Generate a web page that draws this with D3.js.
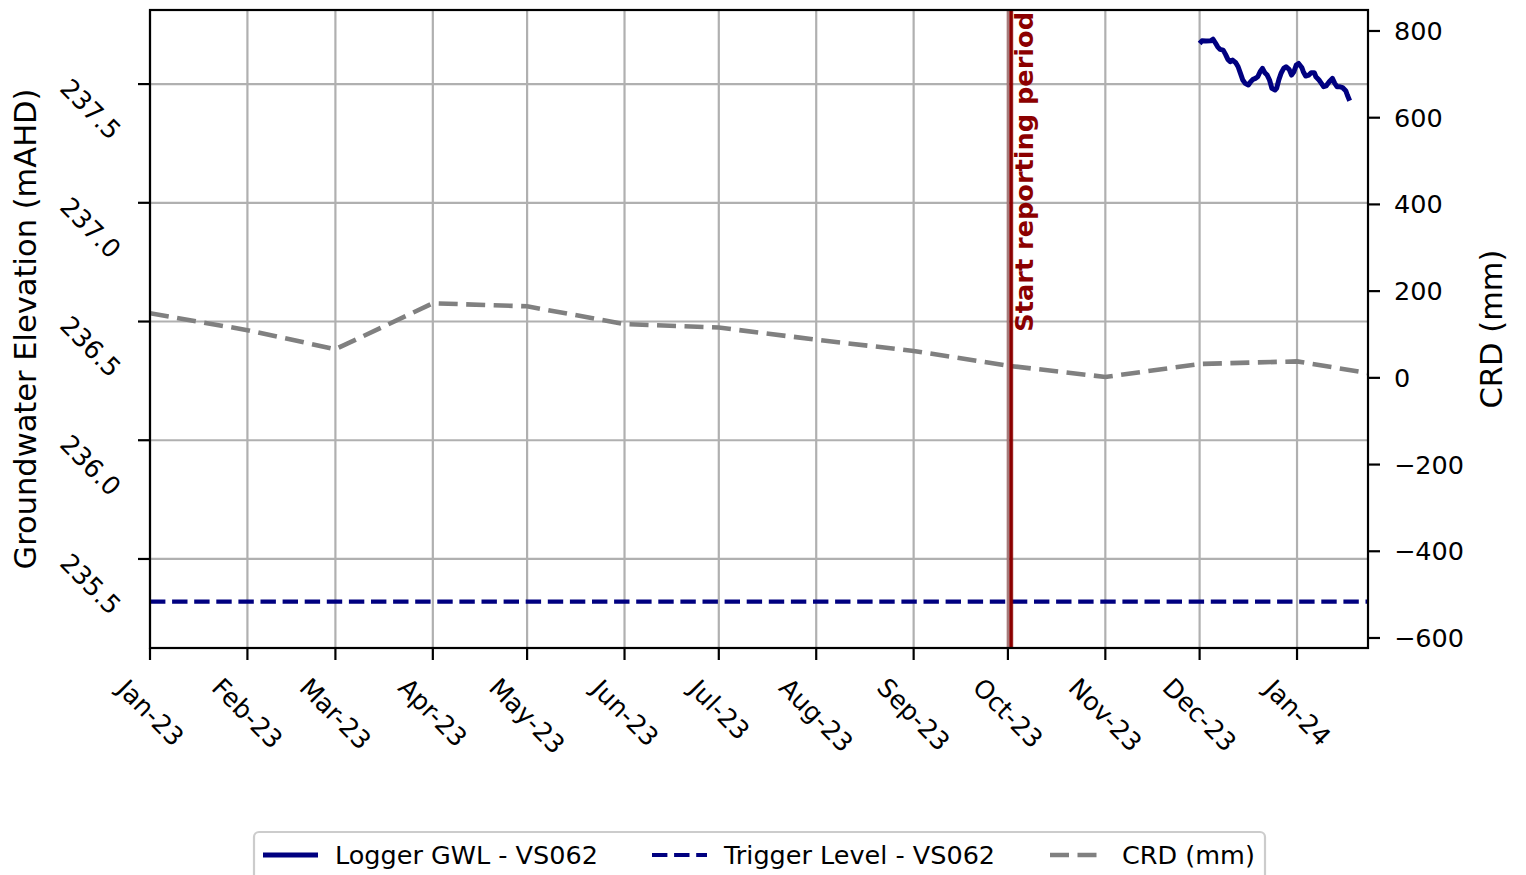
<!DOCTYPE html>
<html><head><meta charset="utf-8">
<script src="https://cdn.jsdelivr.net/npm/d3@7"></script>
<style>body{margin:0;background:#fff;} svg{display:block;font-family:"DejaVu Sans",sans-serif;}</style>
</head><body>
<svg id="c" width="1526" height="875"></svg>
<script>
// ---------------- data ----------------
const loggerDates = ["2023-12-01 00","2023-12-01 18","2023-12-03 00","2023-12-04 12","2023-12-05 06","2023-12-06 00","2023-12-06 18","2023-12-07 12","2023-12-08 12","2023-12-09 06","2023-12-10 00","2023-12-10 18","2023-12-11 12","2023-12-12 12","2023-12-13 06","2023-12-14 00","2023-12-14 18","2023-12-15 12","2023-12-16 12","2023-12-17 06","2023-12-18 00","2023-12-18 18","2023-12-19 12","2023-12-20 06","2023-12-21 00","2023-12-21 18","2023-12-22 12","2023-12-23 06","2023-12-24 00","2023-12-25 00","2023-12-25 12","2023-12-26 06","2023-12-27 00","2023-12-27 18","2023-12-28 12","2023-12-29 12","2023-12-30 06","2023-12-31 00","2023-12-31 18","2024-01-01 12","2024-01-02 12","2024-01-03 00","2024-01-03 18","2024-01-04 18","2024-01-05 12","2024-01-06 12","2024-01-07 00","2024-01-08 00","2024-01-08 18","2024-01-09 12","2024-01-10 06","2024-01-11 06","2024-01-12 06","2024-01-13 00","2024-01-13 18","2024-01-14 12","2024-01-15 12","2024-01-16 12","2024-01-17 00","2024-01-17 18"];
const loggerValues = [237.671,237.682,237.681,237.682,237.689,237.674,237.657,237.646,237.643,237.625,237.604,237.594,237.601,237.590,237.573,237.545,237.517,237.503,237.496,237.510,237.520,237.524,237.531,237.552,237.566,237.548,237.538,237.517,237.482,237.475,237.482,237.520,237.548,237.566,237.573,237.562,237.538,237.552,237.580,237.587,237.570,237.552,237.534,237.538,237.548,237.548,237.531,237.517,237.503,237.489,237.492,237.510,237.524,237.503,237.489,237.489,237.485,237.472,237.454,237.430];
const triggerLevel = 235.32;
const crdDates = ["2023-01-01","2023-02-01","2023-03-01","2023-04-01","2023-05-01","2023-06-01","2023-07-01","2023-08-01","2023-09-01","2023-10-01","2023-11-01","2023-12-01","2024-01-01","2024-02-01"];
const crdValues = [149,110,66,172,165,124,116,88,62,28,2,32,38,1];
const leftTicks = [235.5,236.0,236.5,237.0,237.5];
const rightTicks = [-600,-400,-200,0,200,400,600,800];
const reportStart = "2023-10-02";
const reportLabel = "Start reporting period";
const leftLabel = "Groundwater Elevation (mAHD)";
const rightLabel = "CRD (mm)";
const legendLabels = ["Logger GWL - VS062","Trigger Level - VS062","CRD (mm)"];
const xStart = "2023-01-01 00", xEnd = "2024-01-23 14";

// ---------------- layout ----------------
const L = 150, R = 1368, T = 10, B = 648;
const FS = 25.5;
const navy = "#000080", gray = "#808080", dred = "#8b0000", grid = "#b0b0b0";
const pH = d3.timeParse("%Y-%m-%d %H"), pD = d3.timeParse("%Y-%m-%d");
const svg = d3.select("#c");

const x = d3.scaleTime().domain([pH(xStart), pH(xEnd)]).range([L, R]);
const yL = d3.scaleLinear().domain([235.125, 237.812]).range([B, T]);
const yR = d3.scaleLinear().domain([-623.1, 848.4]).range([B, T]);
const months = d3.timeMonth.range(pD("2023-01-01"), pH(xEnd));
const fmt = d3.timeFormat("%b-%y");

svg.append("defs").append("clipPath").attr("id","clip")
  .append("rect").attr("x",L).attr("y",T).attr("width",R-L).attr("height",B-T);

// grid
const g = svg.append("g");
g.selectAll(".vg").data(months).join("line")
  .attr("x1",d=>x(d)).attr("x2",d=>x(d)).attr("y1",T).attr("y2",B)
  .attr("stroke",grid).attr("stroke-width",2.2);
g.selectAll(".hg").data(leftTicks).join("line")
  .attr("x1",L).attr("x2",R).attr("y1",d=>yL(d)).attr("y2",d=>yL(d))
  .attr("stroke",grid).attr("stroke-width",2.2);

const plot = svg.append("g").attr("clip-path","url(#clip)");
// CRD
plot.append("path").datum(crdDates.map((d,i)=>[pD(d),crdValues[i]]))
  .attr("fill","none").attr("stroke",gray).attr("stroke-width",4.6)
  .attr("stroke-dasharray","19,8.5")
  .attr("d", d3.line().x(d=>x(d[0])).y(d=>yR(d[1])));
// trigger
plot.append("line").attr("x1",L).attr("x2",R)
  .attr("y1",yL(triggerLevel)).attr("y2",yL(triggerLevel))
  .attr("stroke",navy).attr("stroke-width",4.2).attr("stroke-dasharray","15.4,6.7");
// logger
plot.append("path").datum(loggerDates.map((d,i)=>[pH(d),loggerValues[i]]))
  .attr("fill","none").attr("stroke",navy).attr("stroke-width",5).attr("stroke-linejoin","round")
  .attr("d", d3.line().x(d=>x(d[0])).y(d=>yL(d[1])));
// report start
const rx = x(pD(reportStart));
plot.append("rect").attr("x",rx-4.5).attr("y",T).attr("width",7).attr("height",B-T)
  .attr("fill",dred).attr("opacity",0.3);
plot.append("line").attr("x1",rx).attr("x2",rx).attr("y1",T).attr("y2",B)
  .attr("stroke",dred).attr("stroke-width",3.5);
svg.append("text").attr("transform",`translate(${rx+21.5},12) rotate(-90)`)
  .attr("text-anchor","end").attr("font-size",25.6).attr("font-weight","bold")
  .attr("fill",dred).text(reportLabel);

// spines
svg.append("rect").attr("x",L).attr("y",T).attr("width",R-L).attr("height",B-T)
  .attr("fill","none").attr("stroke","#000").attr("stroke-width",2.2);

// x ticks
months.forEach(m=>{
  const xx = x(m);
  svg.append("line").attr("x1",xx).attr("x2",xx).attr("y1",B).attr("y2",B+12)
    .attr("stroke","#000").attr("stroke-width",2.2);
  const gg = svg.append("g");
  gg.append("text").attr("transform","rotate(45)").attr("text-anchor","middle")
    .attr("dominant-baseline","central").attr("font-size",FS).text(fmt(m));
  const bb = gg.node().getBBox();
  gg.attr("transform",`translate(${xx-(bb.x+bb.width/2)},${672-bb.y})`);
});
// left ticks
leftTicks.forEach(v=>{
  const yy = yL(v);
  svg.append("line").attr("x1",L-12).attr("x2",L).attr("y1",yy).attr("y2",yy)
    .attr("stroke","#000").attr("stroke-width",2.2);
  const gg = svg.append("g");
  gg.append("text").attr("transform","rotate(45)").attr("text-anchor","middle")
    .attr("dominant-baseline","central").attr("font-size",FS).text(v.toFixed(1));
  const bb = gg.node().getBBox();
  gg.attr("transform",`translate(${127-(bb.x+bb.width)},${yy+25-(bb.y+bb.height/2)})`);
});
// right ticks
rightTicks.forEach(v=>{
  const yy = yR(v);
  svg.append("line").attr("x1",R).attr("x2",R+12).attr("y1",yy).attr("y2",yy)
    .attr("stroke","#000").attr("stroke-width",2.2);
  svg.append("text").attr("x",R+26).attr("y",yy).attr("dominant-baseline","central")
    .attr("font-size",FS).text(v<0?"\u2212"+Math.abs(v):String(v));
});
// axis labels
svg.append("text").attr("transform",`translate(36,${(T+B)/2}) rotate(-90)`)
  .attr("text-anchor","middle").attr("font-size",30.5).text(leftLabel);
svg.append("text").attr("transform",`translate(1502,${(T+B)/2}) rotate(-90)`)
  .attr("text-anchor","middle").attr("font-size",30.5).text(rightLabel);

// legend
const lg = svg.append("g");
lg.append("rect").attr("x",254).attr("y",832).attr("width",1011).attr("height",70).attr("rx",5)
  .attr("fill","#fff").attr("fill-opacity",0.8).attr("stroke","#cccccc").attr("stroke-width",2.2);
const items = [
  {x:263, stroke:navy, w:5, dash:null},
  {x:652, stroke:navy, w:4.2, dash:"15.4,6.7"},
  {x:1050, stroke:gray, w:4.6, dash:"19,8.5"}
];
items.forEach((it,i)=>{
  const l = lg.append("line").attr("x1",it.x).attr("x2",it.x+55).attr("y1",855).attr("y2",855)
    .attr("stroke",it.stroke).attr("stroke-width",it.w);
  if(it.dash) l.attr("stroke-dasharray",it.dash);
  lg.append("text").attr("x",it.x+72).attr("y",855).attr("dominant-baseline","central")
    .attr("font-size",FS).text(legendLabels[i]);
});
</script>
</body></html>
